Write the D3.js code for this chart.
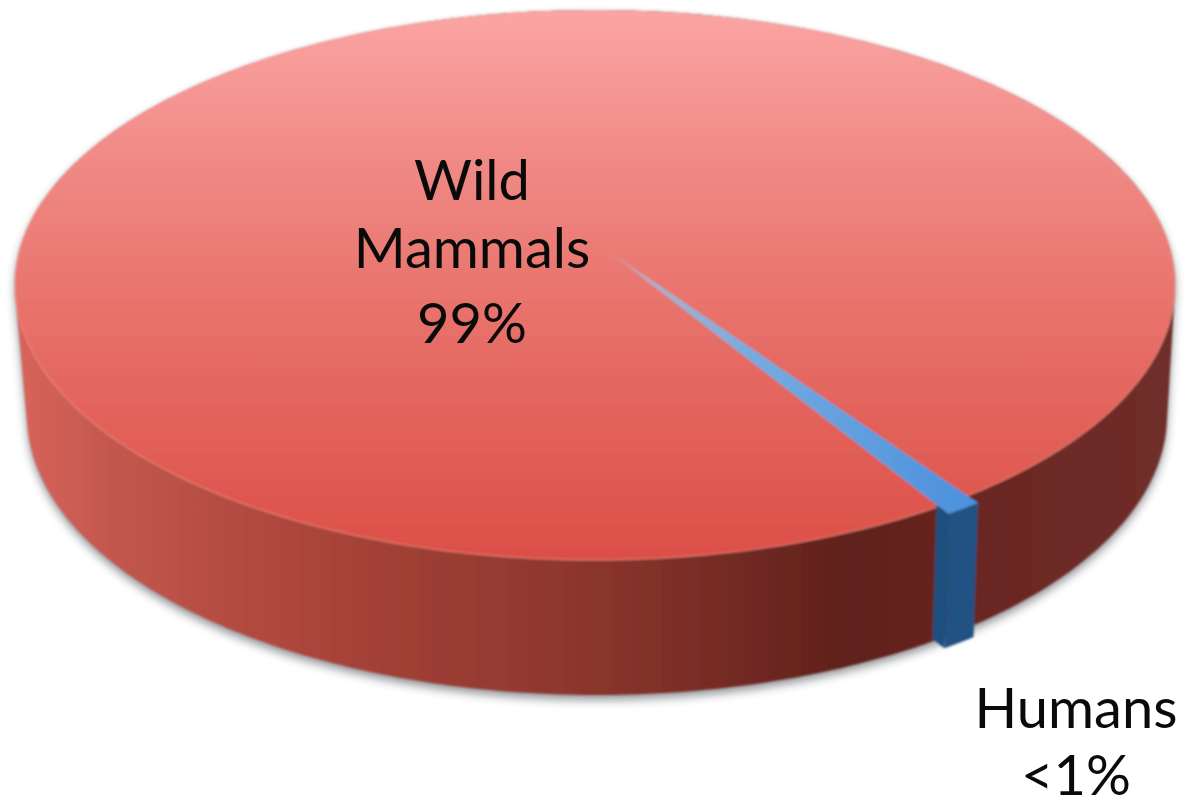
<!DOCTYPE html>
<html>
<head>
<meta charset="utf-8">
<script src="https://cdn.jsdelivr.net/npm/d3@7"></script>
<style>
  html, body { margin: 0; padding: 0; background: #fff; }
  svg { display: block; }
  text { font-family: Lato, sans-serif; fill: #0a0a0a; text-anchor: middle; }
</style>
</head>
<body>
<div id="chart"></div>
<script>
// values
var categories = ['Humans', 'Wild Mammals'];
var values = [1, 99];
var wildLabel = ['Wild', 'Mammals', '99%'];
var humanLabel = ['Humans', '<1%'];

var width = 1187, height = 807;

// the disc is a tilted circle, so top and bottom rims are two ellipses
var topX = d3.scaleLinear().domain([-1, 1]).range([15, 1175]);
var topY = d3.scaleLinear().domain([-1, 1]).range([10, 560]);
var botX = d3.scaleLinear().domain([-1, 1]).range([27, 1167]);
var botY = d3.scaleLinear().domain([-1, 1]).range([135, 695]);

// perspective moves the hub away from the middle of the ellipse
var topHub = [607, 250], botHub = [607, 385];
var explode = 1.032;
var cutFrac = 0.965;

var pie = d3.pie().sort(null).value(function(d) { return d; })
  .startAngle(140.2 * Math.PI / 180)
  .endAngle((140.2 + 360) * Math.PI / 180);
var arcs = pie(values);
var humans = arcs[0], wild = arcs[1];

var rim = function(sx, sy, a, r) {
  return [sx(r * Math.sin(a)), sy(-r * Math.cos(a))];
};
var arcPoints = function(sx, sy, a0, a1, r) {
  var n = Math.max(2, Math.ceil(Math.abs(a1 - a0) * 60));
  return d3.range(n + 1).map(function(i) {
    return rim(sx, sy, a0 + (a1 - a0) * i / n, r);
  });
};
var toward = function(hub, p, t) {
  return [hub[0] + (p[0] - hub[0]) * t, hub[1] + (p[1] - hub[1]) * t];
};
var line = d3.line();

var svg = d3.select('#chart').append('svg')
  .attr('width', width).attr('height', height);
var defs = svg.append('defs');

var gradient = function(id, horizontal, a, b, stops) {
  var g = defs.append('linearGradient').attr('id', id)
    .attr('gradientUnits', 'userSpaceOnUse');
  if (horizontal) {
    g.attr('x1', a).attr('x2', b).attr('y1', 0).attr('y2', 0);
  } else {
    g.attr('x1', 0).attr('x2', 0).attr('y1', a).attr('y2', b);
  }
  stops.forEach(function(s) {
    g.append('stop').attr('offset', s[0]).attr('stop-color', s[1]);
  });
};

gradient('faceRed', false, 10, 560, [
  [0, '#fba5a3'], [0.25, '#f18c88'], [0.5, '#e9766f'], [0.75, '#e2625a'], [1, '#dc4f47']
]);
gradient('wallRed', true, 20, 1170, [
  [0, '#d8635b'], [0.08, '#c2574e'], [0.25, '#ab453b'], [0.5, '#8a352c'],
  [0.72, '#5f211b'], [0.84, '#6b2722'], [1, '#702e2a']
]);
gradient('faceBlue', true, 607, 978, [
  [0, '#e58a8a'], [0.12, '#a8b4d0'], [0.4, '#74abe0'], [1, '#4a90dc']
]);

defs.append('filter').attr('id', 'shadow')
  .attr('x', '-5%').attr('y', '-5%').attr('width', '110%').attr('height', '115%')
  .append('feGaussianBlur').attr('stdDeviation', 5);
defs.append('filter').attr('id', 'soft')
  .append('feGaussianBlur').attr('stdDeviation', 1);

var full = Math.PI * 2;
var hull = d3.polygonHull(
  arcPoints(topX, topY, 0, full, 1).concat(arcPoints(botX, botY, 0, full, 1))
);

var disc = svg.append('g');

// soft shadow under the disc
svg.insert('path', 'g')
  .attr('d', line(hull) + 'Z')
  .attr('transform', 'translate(0,5)')
  .attr('fill', '#5c5f66')
  .attr('opacity', 0.65)
  .attr('filter', 'url(#shadow)');

var body = disc.append('g').attr('filter', 'url(#soft)');

// red side wall
body.append('path')
  .attr('d', line(hull) + 'Z')
  .attr('fill', 'url(#wallRed)');

// red top face, drawn from the pie angles of the big slice
body.append('path')
  .attr('d', line(arcPoints(topX, topY, wild.startAngle, wild.endAngle, 1)) + 'Z')
  .attr('fill', 'url(#faceRed)');
body.append('path')
  .attr('d', line(arcPoints(topX, topY, full * 0.2, full * 0.8, 1)))
  .attr('fill', 'none')
  .attr('stroke', '#f4978c')
  .attr('stroke-opacity', 0.55)
  .attr('stroke-width', 1.5);

// blue slice, pulled out a little
var p1 = rim(topX, topY, humans.endAngle, explode);
var q1 = rim(botX, botY, humans.endAngle, explode);
var cutTop = toward(topHub, p1, cutFrac);
var cutBot = toward(botHub, q1, cutFrac);

body.append('path')
  .attr('d', line([cutTop, p1, q1, cutBot]) + 'Z')
  .attr('fill', '#1f4f7d');
body.append('path')
  .attr('d', line(arcPoints(topX, topY, humans.startAngle, humans.endAngle, explode)
    .concat(arcPoints(botX, botY, humans.endAngle, humans.startAngle, explode))) + 'Z')
  .attr('fill', '#215183');
body.append('path')
  .attr('d', line([topHub].concat(arcPoints(topX, topY, humans.startAngle, humans.endAngle, explode))) + 'Z')
  .attr('fill', 'url(#faceBlue)');

// labels
var fontSize = 56;
var addLabel = function(lines, x, ys) {
  svg.append('g').selectAll('text')
    .data(lines)
    .join('text')
    .attr('x', x)
    .attr('y', function(d, i) { return ys[i]; })
    .attr('font-size', fontSize)
    .text(function(d) { return d; });
};
addLabel(wildLabel, 472, [200, 268, 343]);
addLabel(humanLabel, 1076, [728, 795]);
</script>
</body>
</html>
